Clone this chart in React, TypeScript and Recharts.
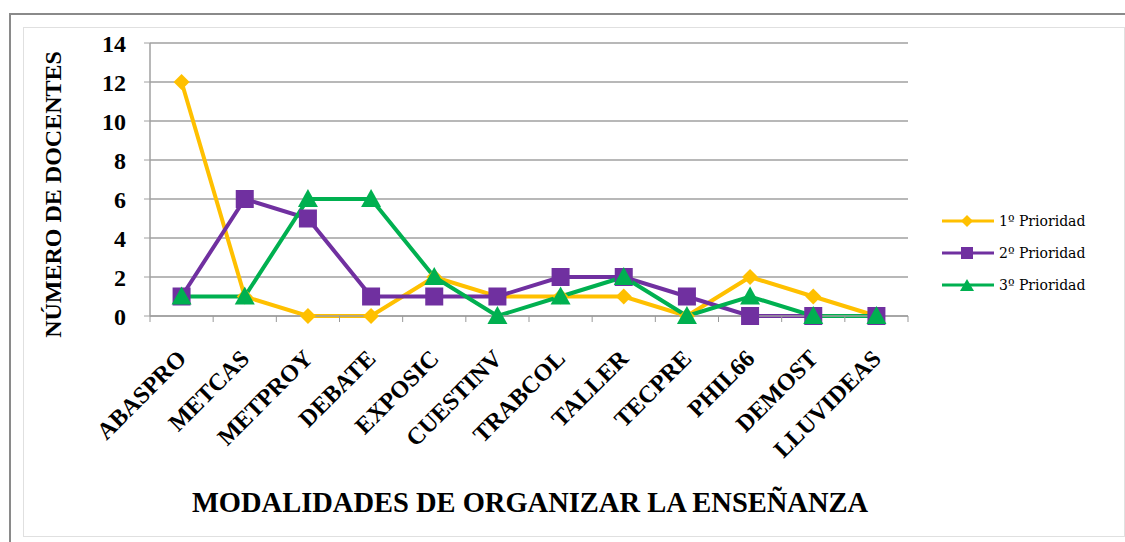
import React from 'react'
import { LineChart, Line, XAxis, YAxis, CartesianGrid } from 'recharts'

const categories = ['ABASPRO', 'METCAS', 'METPROY', 'DEBATE', 'EXPOSIC', 'CUESTINV', 'TRABCOL', 'TALLER', 'TECPRE', 'PHIL66', 'DEMOST', 'LLUVIDEAS']
const prioridad1 = [12, 1, 0, 0, 2, 1, 1, 1, 0, 2, 1, 0]
const prioridad2 = [1, 6, 5, 1, 1, 1, 2, 2, 1, 0, 0, 0]
const prioridad3 = [1, 1, 6, 6, 2, 0, 1, 2, 0, 1, 0, 0]
const yTicks = [0, 2, 4, 6, 8, 10, 12, 14]

const data = categories.map((c, i) => ({
  name: c,
  p1: prioridad1[i],
  p2: prioridad2[i],
  p3: prioridad3[i],
}))

const YELLOW = '#FFC000'
const PURPLE = '#7030A0'
const GREEN = '#00B050'
const FONT = '"Liberation Serif", serif'
const BAND = 758 / categories.length

const Diamond = (props: any) => {
  const { cx, cy } = props
  if (cx == null || cy == null) return null
  const r = 8
  return <path d={`M${cx},${cy - r}L${cx + r},${cy}L${cx},${cy + r}L${cx - r},${cy}Z`} fill={YELLOW} />
}

const Square = (props: any) => {
  const { cx, cy } = props
  if (cx == null || cy == null) return null
  const r = 9
  return <rect x={cx - r} y={cy - r} width={r * 2} height={r * 2} fill={PURPLE} />
}

const Triangle = (props: any) => {
  const { cx, cy } = props
  if (cx == null || cy == null) return null
  const r = 10
  return <path d={`M${cx},${cy - r}L${cx + r},${cy + 8}L${cx - r},${cy + 8}Z`} fill={GREEN} />
}

const XTick = (props: any) => {
  const { x, y, payload, index } = props
  const last = index === categories.length - 1
  return (
    <g>
      <line x1={x - BAND / 2} y1={y - 8} x2={x - BAND / 2} y2={y - 2} stroke='#999' />
      {last && <line x1={x + BAND / 2} y1={y - 8} x2={x + BAND / 2} y2={y - 2} stroke='#999' />}
      <text
        transform={`translate(${x + 6},${y + 36}) rotate(-45)`}
        textAnchor='end'
        fontFamily={FONT}
        fontWeight='bold'
        fontSize={24}
        fill='#000'
      >
        {payload.value}
      </text>
    </g>
  )
}

const legendItems = [
  { label: '1º Prioridad', color: YELLOW, shape: 'diamond' },
  { label: '2º Prioridad', color: PURPLE, shape: 'square' },
  { label: '3º Prioridad', color: GREEN, shape: 'triangle' },
]

const CustomLegend = () => (
  <div style={{ position: 'absolute', left: 940, top: 205, fontFamily: '"DejaVu Serif", serif', fontSize: 14 }}>
    {legendItems.map((it) => (
      <div key={it.label} style={{ display: 'flex', alignItems: 'center', height: 32 }}>
        <svg width={56} height={16}>
          <line x1={2} y1={8} x2={54} y2={8} stroke={it.color} strokeWidth={3} />
          {it.shape === 'diamond' && <path d='M27,2L33,8L27,14L21,8Z' fill={it.color} />}
          {it.shape === 'square' && <rect x={21} y={2} width={12} height={12} fill={it.color} />}
          {it.shape === 'triangle' && <path d='M27,2L34,14L20,14Z' fill={it.color} />}
        </svg>
        <span style={{ marginLeft: 3 }}>{it.label}</span>
      </div>
    ))}
  </div>
)

export default function App() {
  return (
    <div style={{ position: 'absolute', left: 0, top: 0, width: 1125, height: 542, background: '#fff' }}>
      <div style={{ position: 'absolute', left: 9, top: 13, width: 1125, height: 540, border: '2px solid #8a8a8a' }} />
      <div style={{ position: 'absolute', left: 23, top: 27, width: 1100, height: 508, border: '1px solid #e0e0e0' }} />
      <div style={{ position: 'absolute', left: 0, top: 0 }}>
        <LineChart width={1125} height={542} data={data} margin={{ top: 43, right: 217, left: 0, bottom: 0 }}>
          <CartesianGrid vertical={false} stroke='#a0a0a0' strokeWidth={1.5} />
          <XAxis
            dataKey='name'
            interval={0}
            tickLine={false}
            padding={{ left: BAND / 2, right: BAND / 2 }}
            axisLine={{ stroke: '#a0a0a0', strokeWidth: 1.5 }}
            tick={<XTick />}
            height={226}
            label={{
              value: 'MODALIDADES DE ORGANIZAR LA ENSEÑANZA',
              position: 'insideBottom',
              offset: 30,
              dx: 1,
              style: { fontFamily: FONT, fontWeight: 'bold', fontSize: 28.5, fill: '#000' },
            }}
          />
          <YAxis
            domain={[0, 14]}
            ticks={yTicks}
            width={150}
            interval={0}
            tickSize={6}
            tickMargin={18}
            tickLine={{ stroke: '#a0a0a0' }}
            axisLine={{ stroke: '#a0a0a0', strokeWidth: 1.5 }}
            tick={{ fontFamily: FONT, fontWeight: 'bold', fontSize: 24, fill: '#000' }}
            label={{
              value: 'NÚMERO DE DOCENTES',
              angle: -90,
              position: 'insideLeft',
              offset: 52,
              dy: 15,
              style: { fontFamily: FONT, fontWeight: 'bold', fontSize: 24, fill: '#000', textAnchor: 'middle' },
            }}
          />
          <Line dataKey='p1' name='1º Prioridad' stroke={YELLOW} strokeWidth={4} dot={<Diamond />} isAnimationActive={false} />
          <Line dataKey='p2' name='2º Prioridad' stroke={PURPLE} strokeWidth={4} dot={<Square />} isAnimationActive={false} />
          <Line dataKey='p3' name='3º Prioridad' stroke={GREEN} strokeWidth={4} dot={<Triangle />} isAnimationActive={false} />
        </LineChart>
      </div>
      <CustomLegend />
    </div>
  )
}
